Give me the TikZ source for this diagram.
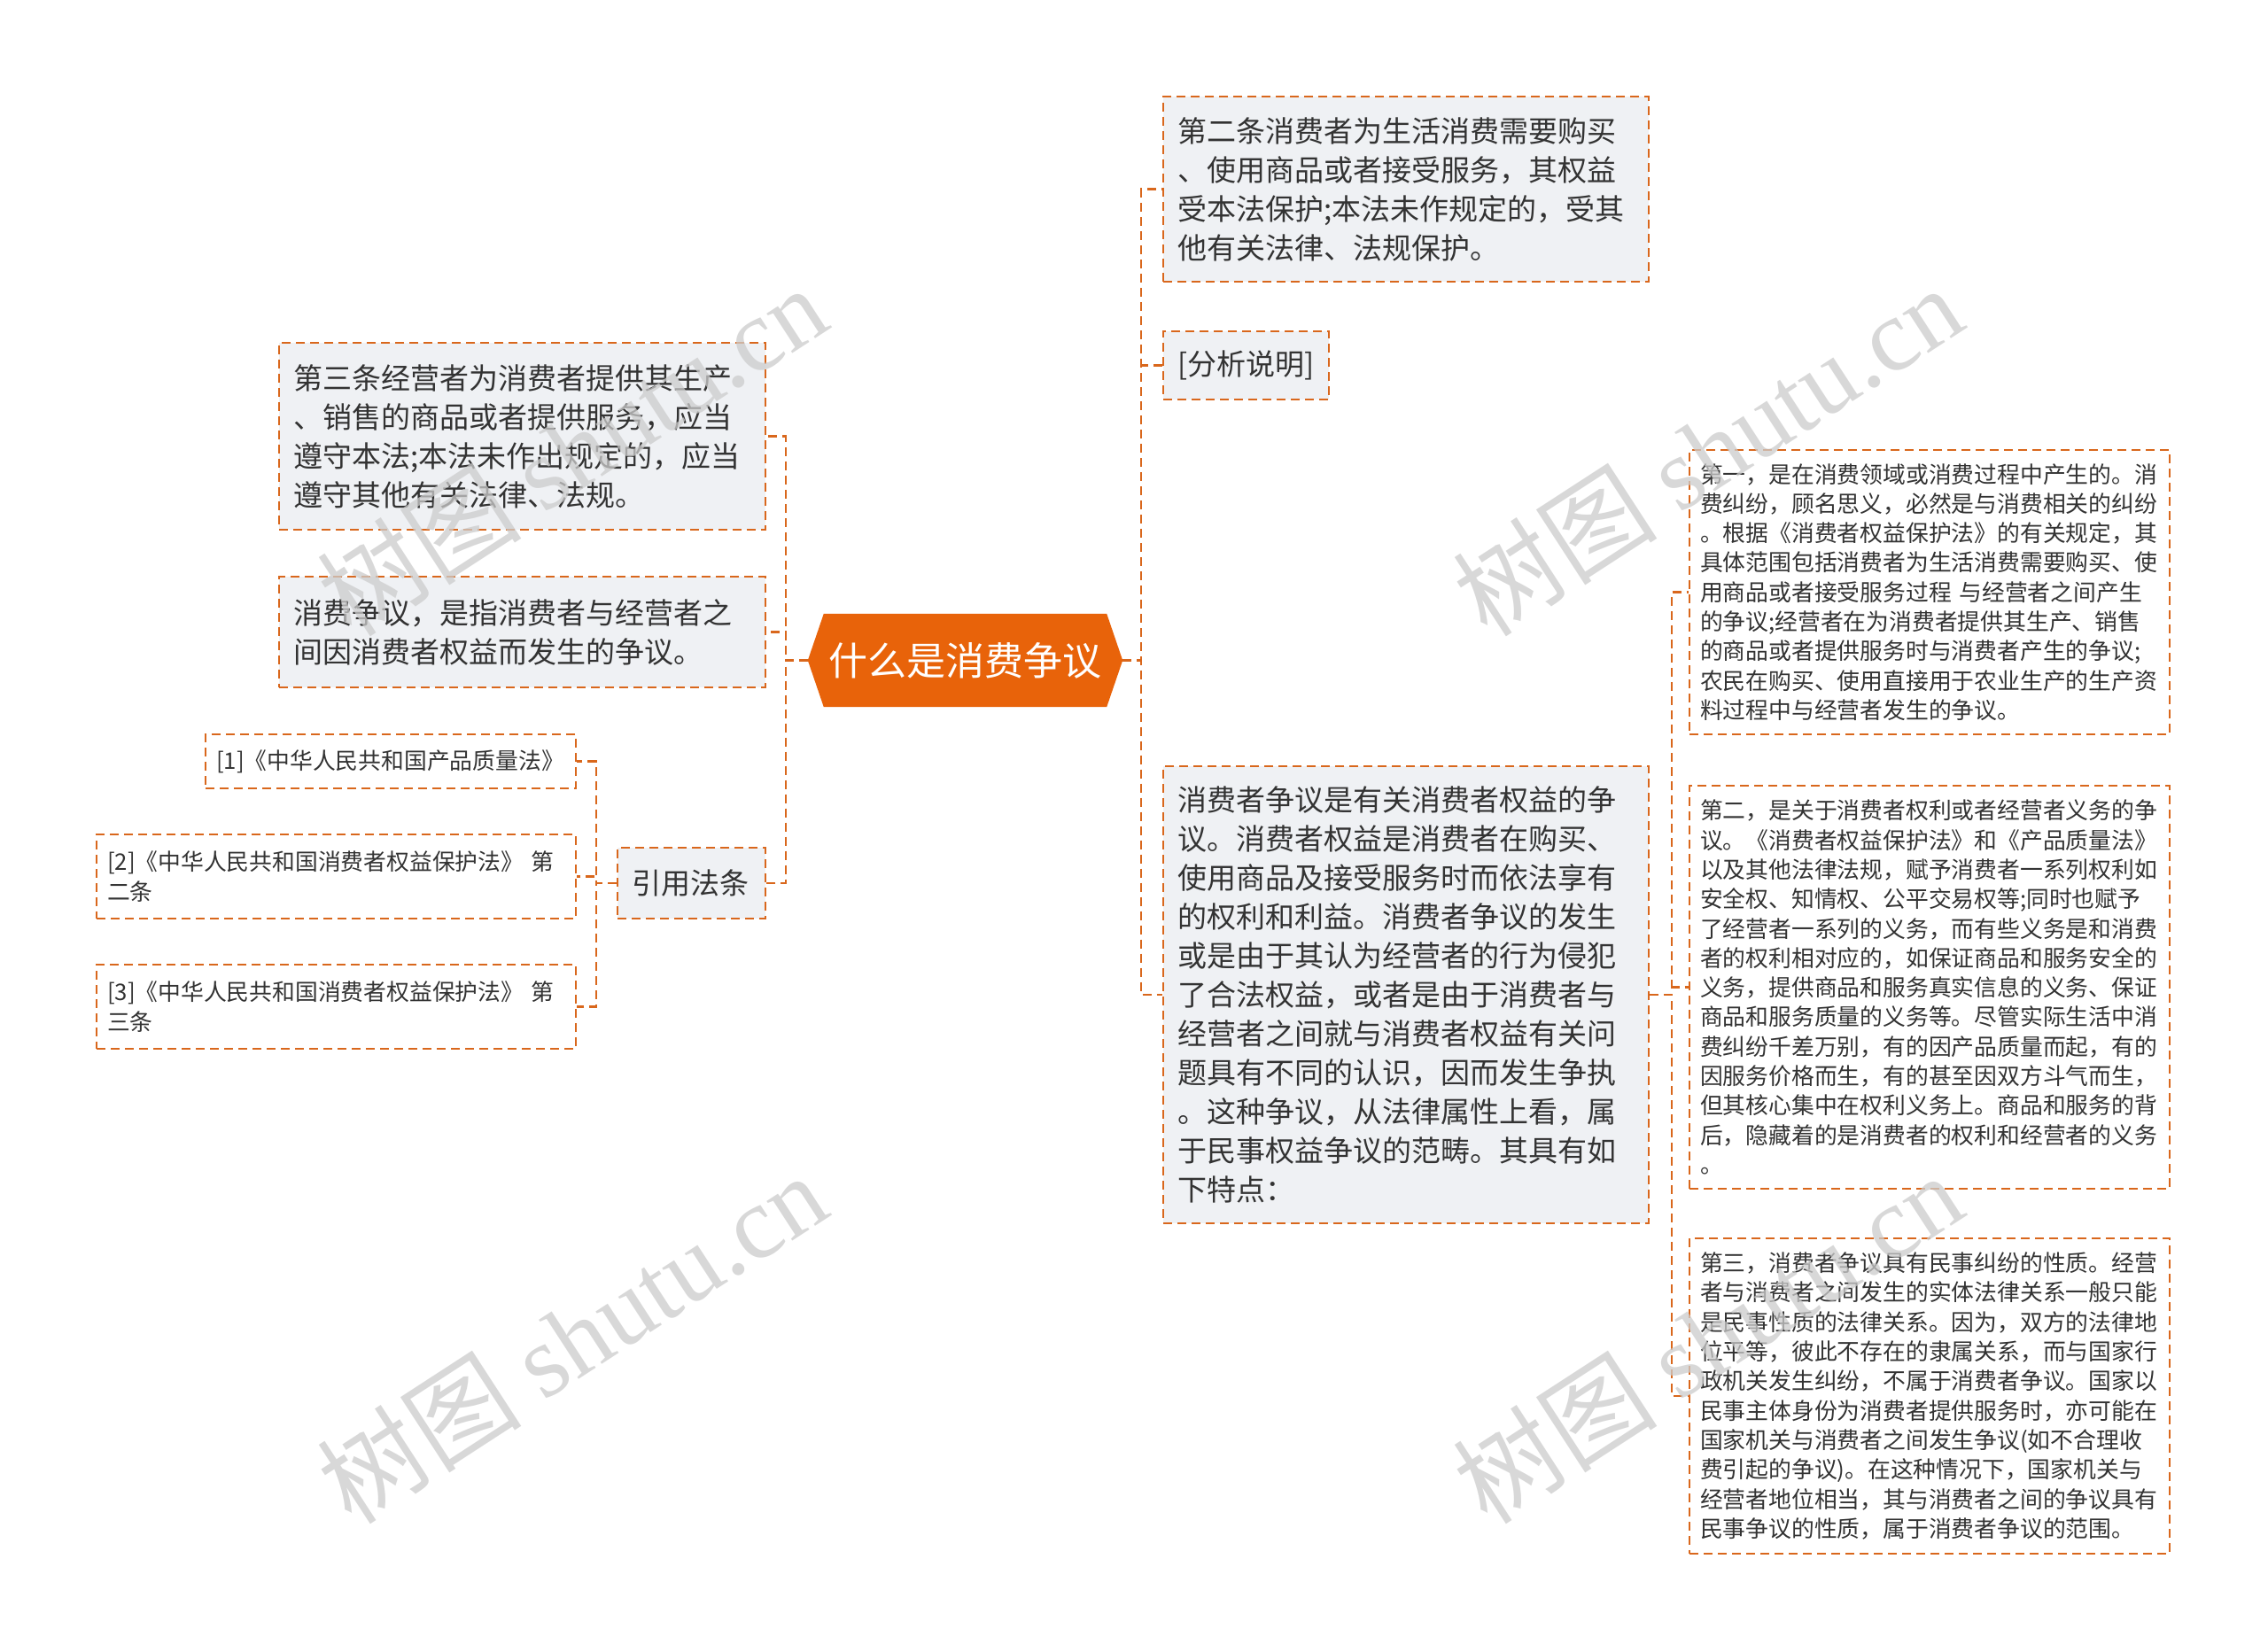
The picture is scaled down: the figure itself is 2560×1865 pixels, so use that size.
\documentclass[tikz,border=0pt]{standalone}
\usepackage{fontspec}
\newfontfamily\cjk{Noto Sans CJK SC}
\newfontfamily\wmserif{Liberation Serif}
\usetikzlibrary{backgrounds}
\definecolor{linkorange}{HTML}{D9671C}
\definecolor{rootorange}{HTML}{E8630A}
\definecolor{boxgray}{HTML}{EFF1F4}
\definecolor{textgray}{HTML}{333333}

\begin{document}
\begin{tikzpicture}[x=1pt,y=-1pt,
  box/.style={draw=linkorange, line width=2.2pt, dash pattern=on 10pt off 6pt, text=textgray, align=left, inner xsep=16pt, inner ysep=4pt, font=\cjk\fontsize{33}{44}\selectfont},
  mainbox/.style={box, fill=boxgray},
  smallbox/.style={box, fill=white, inner xsep=12pt, font=\cjk\fontsize{25.8}{33.3}\selectfont},
  link/.style={draw=linkorange, line width=2.2pt, dash pattern=on 10pt off 6pt},
  rootbox/.style={text=white, font=\cjk\fontsize{44}{50}\selectfont, minimum width=355pt, minimum height=105pt, inner sep=0pt},
  watermark/.style={text=black!20, opacity=0.75, font=\cjk\fontsize{116}{116}\selectfont, rotate=33}]
  \useasboundingbox (0,0) rectangle (2560,1865);

  \node[rootbox] (root) at (1089.5,745.5) {什么是消费争议};
  \begin{scope}[on background layer]
    \fill[white] (0,0) rectangle (2560,1865);
    \fill[rootorange] (root.west) -- ([xshift=18pt]root.north west) -- ([xshift=-18pt]root.north east) -- (root.east) -- ([xshift=-18pt]root.south east) -- ([xshift=18pt]root.south west) -- cycle;
  \end{scope}

  \node[mainbox, text width=516pt, minimum height=209pt] (r1) at (1587,213.5) {第二条消费者为生活消费需要购买\\、使用商品或者接受服务，其权益\\受本法保护;本法未作规定的，受其\\他有关法律、法规保护。};
  \node[mainbox, text width=155pt, minimum height=77pt] (r2) at (1406.5,412.5) {[分析说明]};
  \node[mainbox, text width=516pt, minimum height=516pt] (r3) at (1587,1123) {消费者争议是有关消费者权益的争\\议。消费者权益是消费者在购买、\\使用商品及接受服务时而依法享有\\的权利和利益。消费者争议的发生\\或是由于其认为经营者的行为侵犯\\了合法权益，或者是由于消费者与\\经营者之间就与消费者权益有关问\\题具有不同的认识，因而发生争执\\。这种争议，从法律属性上看，属\\于民事权益争议的范畴。其具有如\\下特点：};

  \node[smallbox, text width=518pt, minimum height=321pt] (rr1) at (2178,668.5) {第一，是在消费领域或消费过程中产生的。消\\费纠纷，顾名思义，必然是与消费相关的纠纷\\。根据《消费者权益保护法》的有关规定，其\\具体范围包括消费者为生活消费需要购买、使\\用商品或者接受服务过程 与经营者之间产生\\的争议;经营者在为消费者提供其生产、销售\\的商品或者提供服务时与消费者产生的争议;\\农民在购买、使用直接用于农业生产的生产资\\料过程中与经营者发生的争议。};
  \node[smallbox, text width=518pt, minimum height=455pt] (rr2) at (2178,1114.5) {第二，是关于消费者权利或者经营者义务的争\\议。《消费者权益保护法》和《产品质量法》\\以及其他法律法规，赋予消费者一系列权利如\\安全权、知情权、公平交易权等;同时也赋予\\了经营者一系列的义务，而有些义务是和消费\\者的权利相对应的，如保证商品和服务安全的\\义务，提供商品和服务真实信息的义务、保证\\商品和服务质量的义务等。尽管实际生活中消\\费纠纷千差万别，有的因产品质量而起，有的\\因服务价格而生，有的甚至因双方斗气而生，\\但其核心集中在权利义务上。商品和服务的背\\后，隐藏着的是消费者的权利和经营者的义务\\。};
  \node[smallbox, text width=518pt, minimum height=356pt] (rr3) at (2178,1576) {第三，消费者争议具有民事纠纷的性质。经营\\者与消费者之间发生的实体法律关系一般只能\\是民事性质的法律关系。因为，双方的法律地\\位平等，彼此不存在的隶属关系，而与国家行\\政机关发生纠纷，不属于消费者争议。国家以\\民事主体身份为消费者提供服务时，亦可能在\\国家机关与消费者之间发生争议(如不合理收\\费引起的争议)。在这种情况下，国家机关与\\经营者地位相当，其与消费者之间的争议具有\\民事争议的性质，属于消费者争议的范围。};

  \node[mainbox, text width=517pt, minimum height=211pt] (l1) at (589.5,492.5) {第三条经营者为消费者提供其生产\\、销售的商品或者提供服务，应当\\遵守本法;本法未作出规定的，应当\\遵守其他有关法律、法规。};
  \node[mainbox, text width=517pt, minimum height=125pt] (l2) at (589.5,713.5) {消费争议，是指消费者与经营者之\\间因消费者权益而发生的争议。};
  \node[mainbox, text width=135pt, minimum height=80pt] (l3) at (780.5,997) {引用法条};

  \node[smallbox, text width=394pt, minimum height=61pt] (ll1) at (441,859.5) {[1]《中华人民共和国产品质量法》};
  \node[smallbox, text width=517pt, minimum height=95pt] (ll2) at (379.5,989.5) {[2]《中华人民共和国消费者权益保护法》 第\\二条};
  \node[smallbox, text width=517pt, minimum height=95pt] (ll3) at (379.5,1136.5) {[3]《中华人民共和国消费者权益保护法》 第\\三条};

  \draw[link] (root.east) -- ++(21,0) |- (r1.west);
  \draw[link] (root.east) -- ++(21,0) |- (r2.west);
  \draw[link] (root.east) -- ++(21,0) |- (r3.west);
  \draw[link] (r3.east) -- ++(25,0) |- (rr1.west);
  \draw[link] (r3.east) -- ++(25,0) |- (rr2.west);
  \draw[link] (r3.east) -- ++(25,0) |- (rr3.west);
  \draw[link] (root.west) -- ++(-25,0) |- (l1.east);
  \draw[link] (root.west) -- ++(-25,0) |- (l2.east);
  \draw[link] (root.west) -- ++(-25,0) |- (l3.east);
  \draw[link] (l3.west) -- ++(-23,0) |- (ll1.east);
  \draw[link] (l3.west) -- ++(-23,0) |- (ll2.east);
  \draw[link] (l3.west) -- ++(-23,0) |- (ll3.east);

  \node[watermark] (wm1) at (645,508) {树图 {\wmserif shutu.cn}};
  \node[watermark] (wm2) at (1927,508) {树图 {\wmserif shutu.cn}};
  \node[watermark] (wm3) at (645,1510) {树图 {\wmserif shutu.cn}};
  \node[watermark] (wm4) at (1927,1510) {树图 {\wmserif shutu.cn}};
\end{tikzpicture}
\end{document}
